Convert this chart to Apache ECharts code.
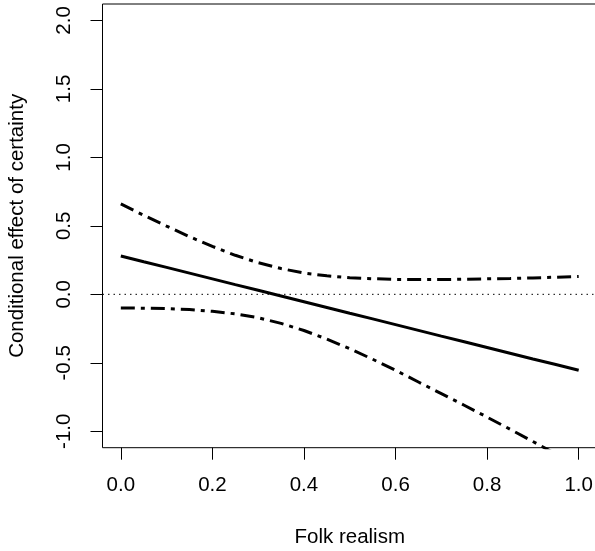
<!DOCTYPE html>
<html>
<head>
<meta charset="utf-8">
<script src="https://cdn.jsdelivr.net/npm/echarts@6/dist/echarts.min.js"></script>
<style>html,body{margin:0;padding:0;background:#fff;}#c{width:595px;height:551px;}</style>
</head>
<body>
<div id="c"></div>
<script>
var folkRealism = [0, 0.05, 0.1, 0.15, 0.2, 0.25, 0.3, 0.35, 0.4, 0.45, 0.5, 0.55, 0.6, 0.65, 0.7, 0.75, 0.8, 0.85, 0.9, 0.95, 1.0];
var effect = [0.280, 0.238, 0.197, 0.155, 0.113, 0.071, 0.030, -0.012, -0.054, -0.096, -0.138, -0.179, -0.221, -0.263, -0.305, -0.346, -0.388, -0.430, -0.472, -0.513, -0.555];
var upperCI = [0.660, 0.577, 0.498, 0.421, 0.350, 0.285, 0.231, 0.188, 0.156, 0.135, 0.121, 0.114, 0.109, 0.108, 0.108, 0.110, 0.113, 0.116, 0.120, 0.125, 0.130];
var lowerCI = [-0.100, -0.101, -0.104, -0.111, -0.124, -0.143, -0.171, -0.212, -0.264, -0.327, -0.397, -0.474, -0.555, -0.640, -0.725, -0.810, -0.897, -0.985, -1.075, -1.165, -1.255];
var xTicks = [0, 0.2, 0.4, 0.6, 0.8, 1.0];
var yTicks = [-1.0, -0.5, 0.0, 0.5, 1.0, 1.5, 2.0];
var zeroLine = [[-0.04, 0], [1.04, 0]];

function pairs(xs, ys) { return xs.map(function (x, i) { return [x, ys[i]]; }); }

var FONT = 'Liberation Sans, Arial, Helvetica, sans-serif';
var chart = echarts.init(document.getElementById('c'), null, {renderer: 'canvas'});
chart.setOption({
  backgroundColor: '#ffffff',
  animation: false,
  grid: {
    left: 102.5, top: 4, width: 494.5, height: 443.7,
    show: true, borderColor: '#000', borderWidth: 1, backgroundColor: 'transparent',
    containLabel: false, outerBoundsMode: 'none'
  },
  xAxis: {
    type: 'value', min: -0.04, max: 1.04,
    name: 'Folk realism', nameLocation: 'middle', nameGap: 79,
    nameTextStyle: {fontFamily: FONT, fontSize: 20.5, color: '#000'},
    axisLine: {show: false, onZero: false},
    axisTick: {show: true, inside: false, length: 12, customValues: xTicks, lineStyle: {color: '#000', width: 1}},
    axisLabel: {show: true, margin: 27, customValues: xTicks, fontFamily: FONT, fontSize: 20.5, color: '#000',
      formatter: function (v) { return v.toFixed(1); }},
    splitLine: {show: false}
  },
  yAxis: {
    type: 'value', min: -1.12, max: 2.12,
    name: 'Conditional effect of certainty', nameLocation: 'middle', nameGap: 75,
    nameTextStyle: {fontFamily: FONT, fontSize: 20.5, color: '#000'},
    axisLine: {show: false, onZero: false},
    axisTick: {show: true, inside: false, length: 12, customValues: yTicks, lineStyle: {color: '#000', width: 1}},
    axisLabel: {show: true, margin: 28, rotate: 90, customValues: yTicks, fontFamily: FONT, fontSize: 20.5, color: '#000',
      formatter: function (v) { return v.toFixed(1); }},
    splitLine: {show: false}
  },
  series: [
    {type: 'line', data: pairs(folkRealism, effect), showSymbol: false, symbol: 'none', clip: true,
      lineStyle: {color: '#000', width: 3, type: 'solid'}},
    {type: 'line', data: pairs(folkRealism, upperCI), showSymbol: false, symbol: 'none', clip: true, smooth: false,
      lineStyle: {color: '#000', width: 3, type: [14, 6, 4, 6]}},
    {type: 'line', data: pairs(folkRealism, lowerCI), showSymbol: false, symbol: 'none', clip: true, smooth: false,
      lineStyle: {color: '#000', width: 3, type: [14, 6, 4, 6]}},
    {type: 'line', data: zeroLine, showSymbol: false, symbol: 'none', clip: true,
      lineStyle: {color: '#000', width: 1, type: [1.5, 4]}}
  ]
});
</script>
</body>
</html>
